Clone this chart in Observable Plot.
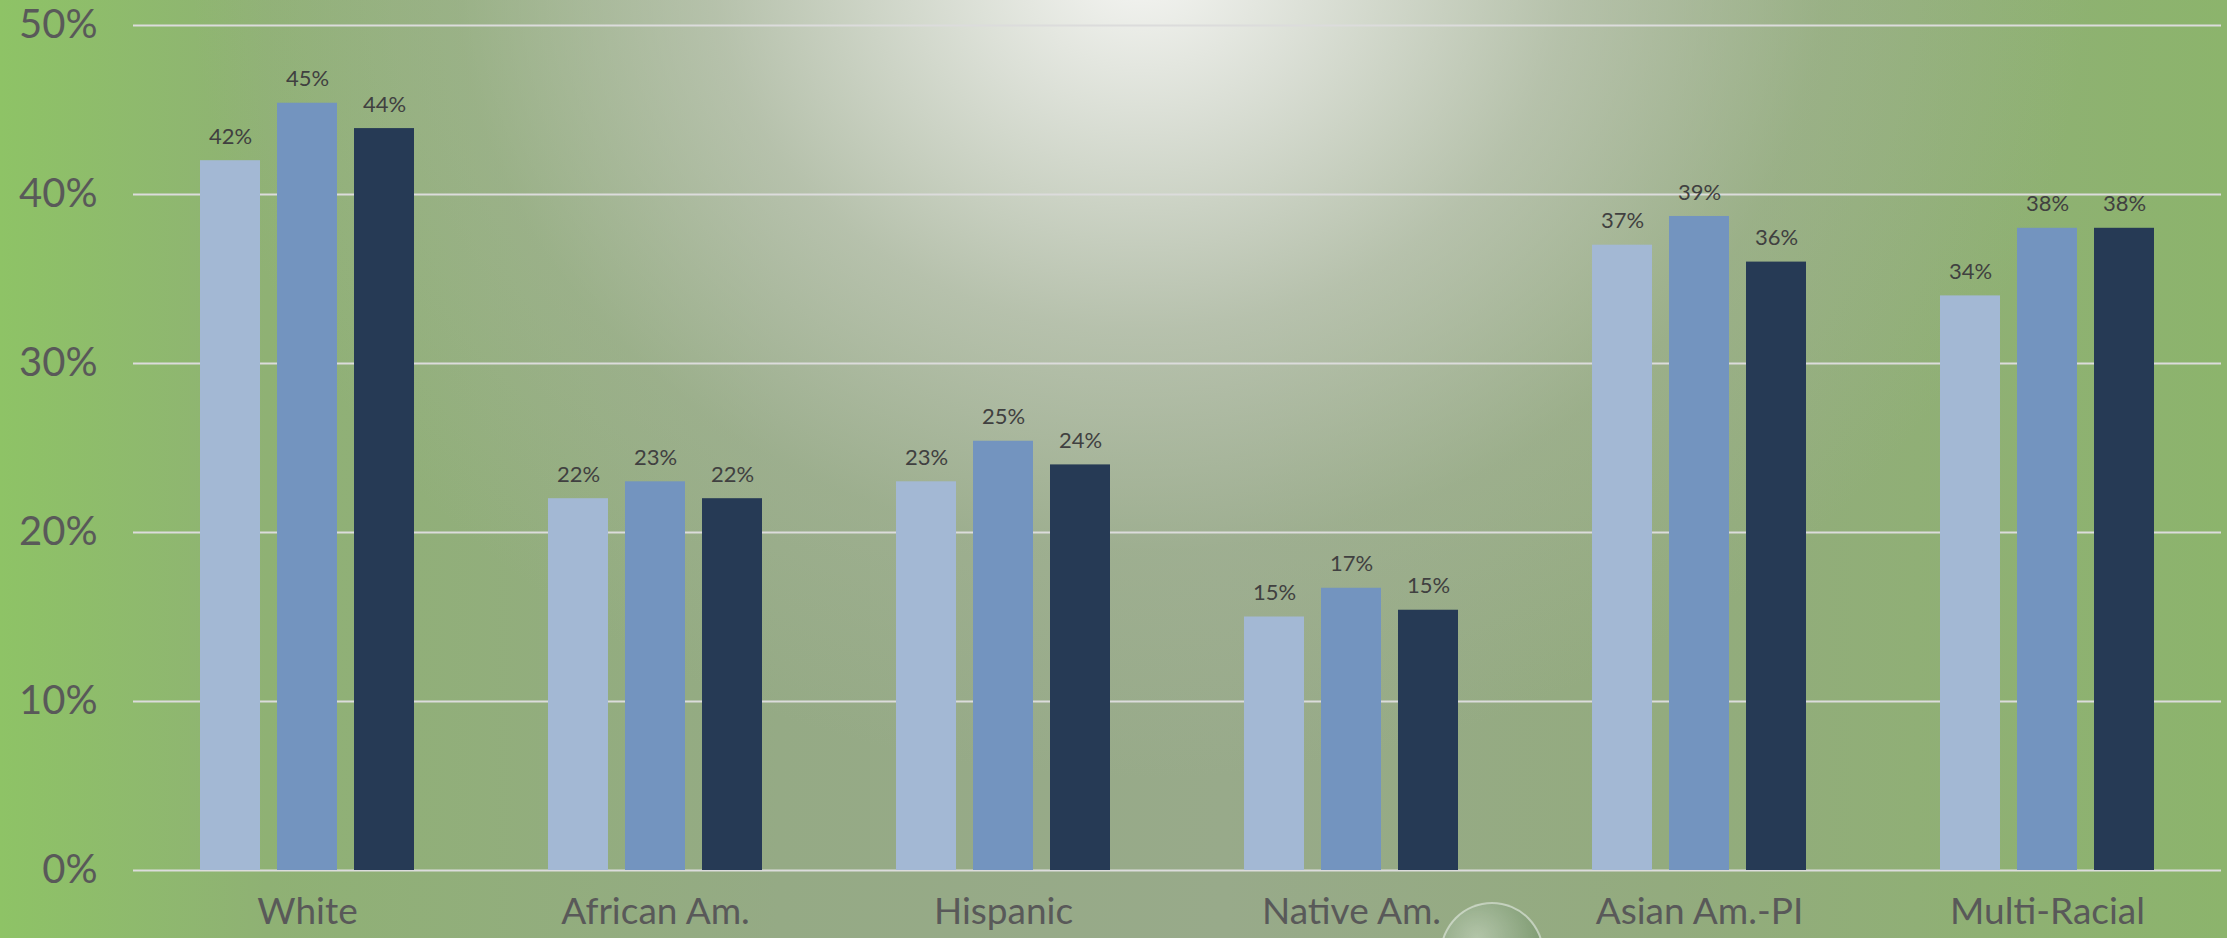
<!DOCTYPE html>
<html>
<head>
<meta charset="utf-8">
<script src="https://cdn.jsdelivr.net/npm/d3@7"></script>
<script src="https://cdn.jsdelivr.net/npm/@observablehq/plot@0.6"></script>
<style>
  html, body { margin: 0; padding: 0; }
  body {
    width: 2227px; height: 938px; overflow: hidden; position: relative;
    background:
      radial-gradient(ellipse 950px 820px at 1140px -40px, rgba(246,246,244,1) 0%, rgba(225,228,221,0.9) 20%, rgba(196,203,188,0.7) 45%, rgba(170,183,158,0.35) 72%, rgba(150,170,130,0) 100%),
      linear-gradient(to right, #8ec366 0%, #8fb174 12%, #95aa85 35%, #98aa8a 55%, #93ab7e 75%, #8cb46c 100%);
  }
  #chart { position: absolute; left: 0; top: 0; }
  .deco {
    position: absolute; left: 1440px; top: 902px; width: 100px; height: 100px; border-radius: 50%;
    background: radial-gradient(circle at 35% 35%, rgba(200,215,195,0.6), rgba(120,150,110,0.7) 70%);
    border: 2px solid rgba(210,220,205,0.8);
  }
</style>
</head>
<body>
<div class="deco"></div>
<div id="chart"></div>
<script>
const categories = ["White", "African Am.", "Hispanic", "Native Am.", "Asian Am.-PI", "Multi-Racial"];
const seriesNames = ["Series 1", "Series 2", "Series 3"];
const series1 = [0.420, 0.220, 0.230, 0.150, 0.370, 0.340];
const series2 = [0.454, 0.230, 0.254, 0.167, 0.387, 0.380];
const series3 = [0.439, 0.220, 0.240, 0.154, 0.360, 0.380];
const colors = ["#A3B8D4", "#7394BF", "#263A55"];
const yTicks = [0, 0.1, 0.2, 0.3, 0.4, 0.5];

const allSeries = [series1, series2, series3];
const data = [];
categories.forEach((c, i) => {
  seriesNames.forEach((s, j) => data.push({cat: c, series: s, value: allSeries[j][i]}));
});

const chart = Plot.plot({
  width: 2227,
  height: 938,
  marginTop: 25,
  marginBottom: 68,
  marginLeft: 132,
  marginRight: 6,
  style: {background: "transparent", fontFamily: "Lato, 'Open Sans', sans-serif", color: "#595959"},
  fx: {domain: categories, padding: 0, label: null},
  x: {domain: seriesNames, paddingInner: 0.22, paddingOuter: 0.868, axis: null},
  y: {domain: [0, 0.5], axis: null},
  color: {domain: seriesNames, range: colors},
  marks: [
    Plot.gridY(yTicks, {stroke: "#dcdcdc", strokeOpacity: 1, strokeWidth: 2}),
    Plot.axisY(yTicks, {tickFormat: d => Math.round(d * 100) + "%", tickSize: 0, tickPadding: 36, fontSize: 40, fill: "#595959", label: null}),
    Plot.barY(data, {fx: "cat", x: "series", y: "value", fill: "series"}),
    Plot.text(data, {fx: "cat", x: "series", y: "value", text: d => Math.round(d.value * 100) + "%", dy: -24, lineAnchor: "middle", fontSize: 22, fill: "#404040"}),
    Plot.axisFx({anchor: "bottom", tickSize: 0, tickPadding: 27, fontSize: 37, fill: "#595959", label: null})
  ]
});
document.getElementById("chart").appendChild(chart);
</script>
</body>
</html>
